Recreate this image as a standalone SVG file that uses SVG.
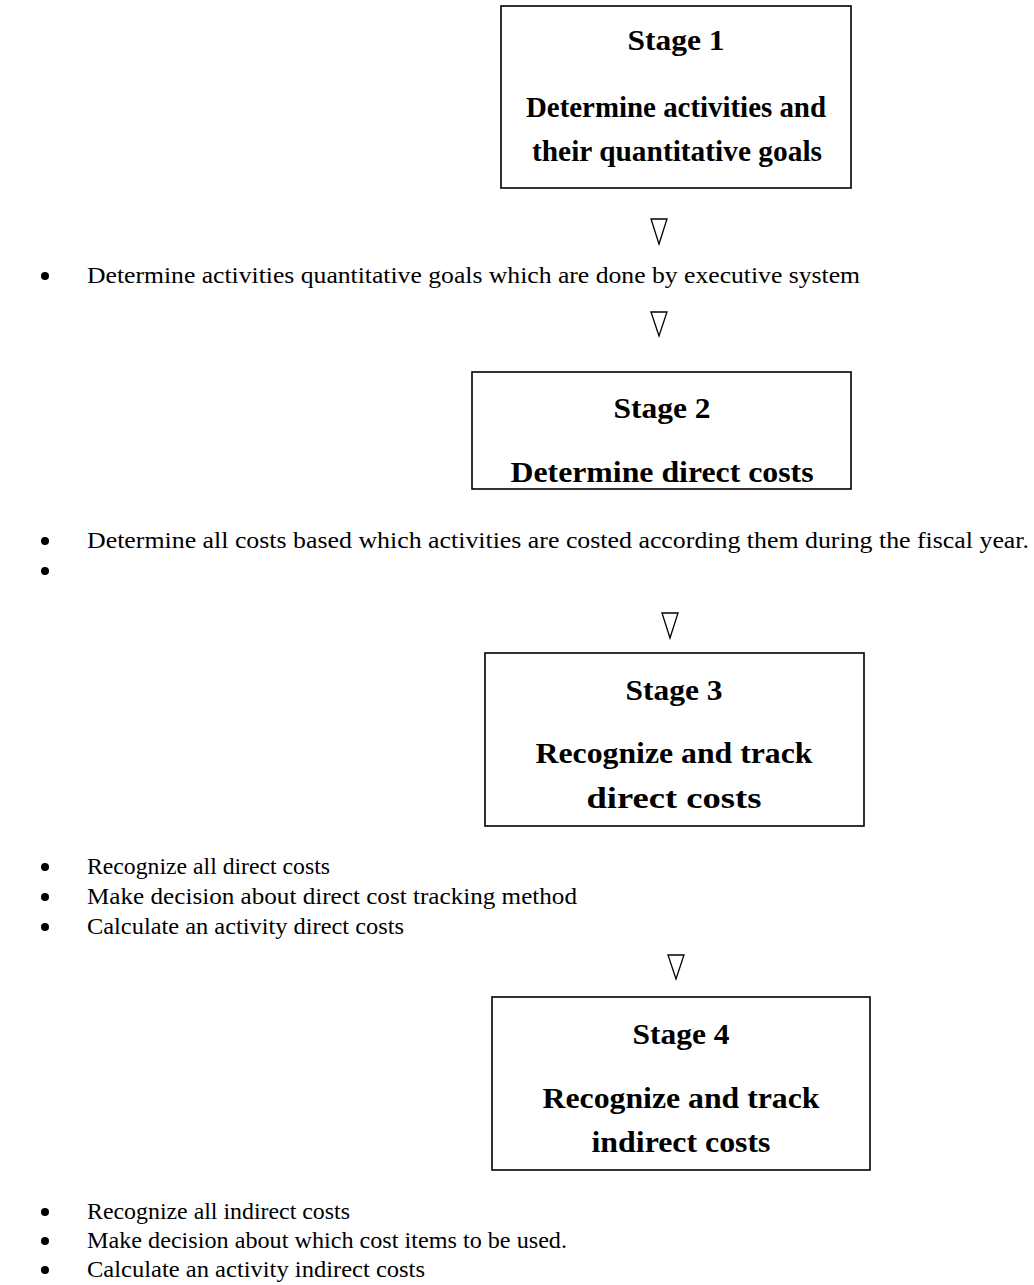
<svg xmlns="http://www.w3.org/2000/svg" width="1034" height="1285" viewBox="0 0 1034 1285">
<style>
.box{fill:#fff;stroke:#000;stroke-width:1.6}
.t{font-family:'Liberation Serif',Tinos,'Times New Roman',Times,serif;font-weight:700;font-size:30px;text-anchor:middle;fill:#000}
.b{font-family:'Liberation Serif',Tinos,'Times New Roman',Times,serif;font-size:24px;fill:#000}
.tri{fill:none;stroke:#000;stroke-width:1.3}
.dot{fill:#000}
</style>
<rect width="1034" height="1285" fill="#fff"/>
<g id="connectors">
<polygon class="tri" points="651,219 667,219 659,244"/>
<polygon class="tri" points="651,312 667,312 659,336"/>
<polygon class="tri" points="662,613 678,613 670,638"/>
<polygon class="tri" points="668,955 684,955 676,979"/>
</g>
<g id="stage1">
<rect class="box" x="501" y="6" width="350" height="182"/>
<text class="t" x="676" y="50" textLength="97" lengthAdjust="spacingAndGlyphs">Stage 1</text>
<text class="t" x="676" y="117" textLength="300" lengthAdjust="spacingAndGlyphs">Determine activities and</text>
<text class="t" x="677" y="161" textLength="290" lengthAdjust="spacingAndGlyphs">their quantitative goals</text>
</g>
<g id="notes1">
<circle class="dot" cx="45" cy="276" r="4"/>
<text class="b" x="87" y="283" textLength="773" lengthAdjust="spacingAndGlyphs">Determine activities quantitative goals which are done by executive system</text>
</g>
<g id="stage2">
<rect class="box" x="472" y="372" width="379" height="117"/>
<text class="t" x="662" y="418" textLength="97" lengthAdjust="spacingAndGlyphs">Stage 2</text>
<text class="t" x="662" y="482" textLength="303" lengthAdjust="spacingAndGlyphs">Determine direct costs</text>
</g>
<g id="notes2">
<circle class="dot" cx="45" cy="541" r="4"/>
<text class="b" x="87" y="548" textLength="942" lengthAdjust="spacingAndGlyphs">Determine all costs based which activities are costed according them during the fiscal year.</text>
<circle class="dot" cx="45" cy="571" r="4"/>
</g>
<g id="stage3">
<rect class="box" x="485" y="653" width="379" height="173"/>
<text class="t" x="674" y="700" textLength="97" lengthAdjust="spacingAndGlyphs">Stage 3</text>
<text class="t" x="674" y="763" textLength="277" lengthAdjust="spacingAndGlyphs">Recognize and track</text>
<text class="t" x="674" y="808" textLength="175" lengthAdjust="spacingAndGlyphs">direct costs</text>
</g>
<g id="notes3">
<circle class="dot" cx="45" cy="867" r="4"/>
<text class="b" x="87" y="874" textLength="243" lengthAdjust="spacingAndGlyphs">Recognize all direct costs</text>
<circle class="dot" cx="45" cy="897" r="4"/>
<text class="b" x="87" y="904" textLength="490" lengthAdjust="spacingAndGlyphs">Make decision about direct cost tracking method</text>
<circle class="dot" cx="45" cy="927" r="4"/>
<text class="b" x="87" y="934" textLength="317" lengthAdjust="spacingAndGlyphs">Calculate an activity direct costs</text>
</g>
<g id="stage4">
<rect class="box" x="492" y="997" width="378" height="173"/>
<text class="t" x="681" y="1044" textLength="97" lengthAdjust="spacingAndGlyphs">Stage 4</text>
<text class="t" x="681" y="1108" textLength="277" lengthAdjust="spacingAndGlyphs">Recognize and track</text>
<text class="t" x="681" y="1152" textLength="179" lengthAdjust="spacingAndGlyphs">indirect costs</text>
</g>
<g id="notes4">
<circle class="dot" cx="45" cy="1212" r="4"/>
<text class="b" x="87" y="1219" textLength="263" lengthAdjust="spacingAndGlyphs">Recognize all indirect costs</text>
<circle class="dot" cx="45" cy="1241" r="4"/>
<text class="b" x="87" y="1248" textLength="480" lengthAdjust="spacingAndGlyphs">Make decision about which cost items to be used.</text>
<circle class="dot" cx="45" cy="1270" r="4"/>
<text class="b" x="87" y="1277" textLength="338" lengthAdjust="spacingAndGlyphs">Calculate an activity indirect costs</text>
</g>
</svg>
